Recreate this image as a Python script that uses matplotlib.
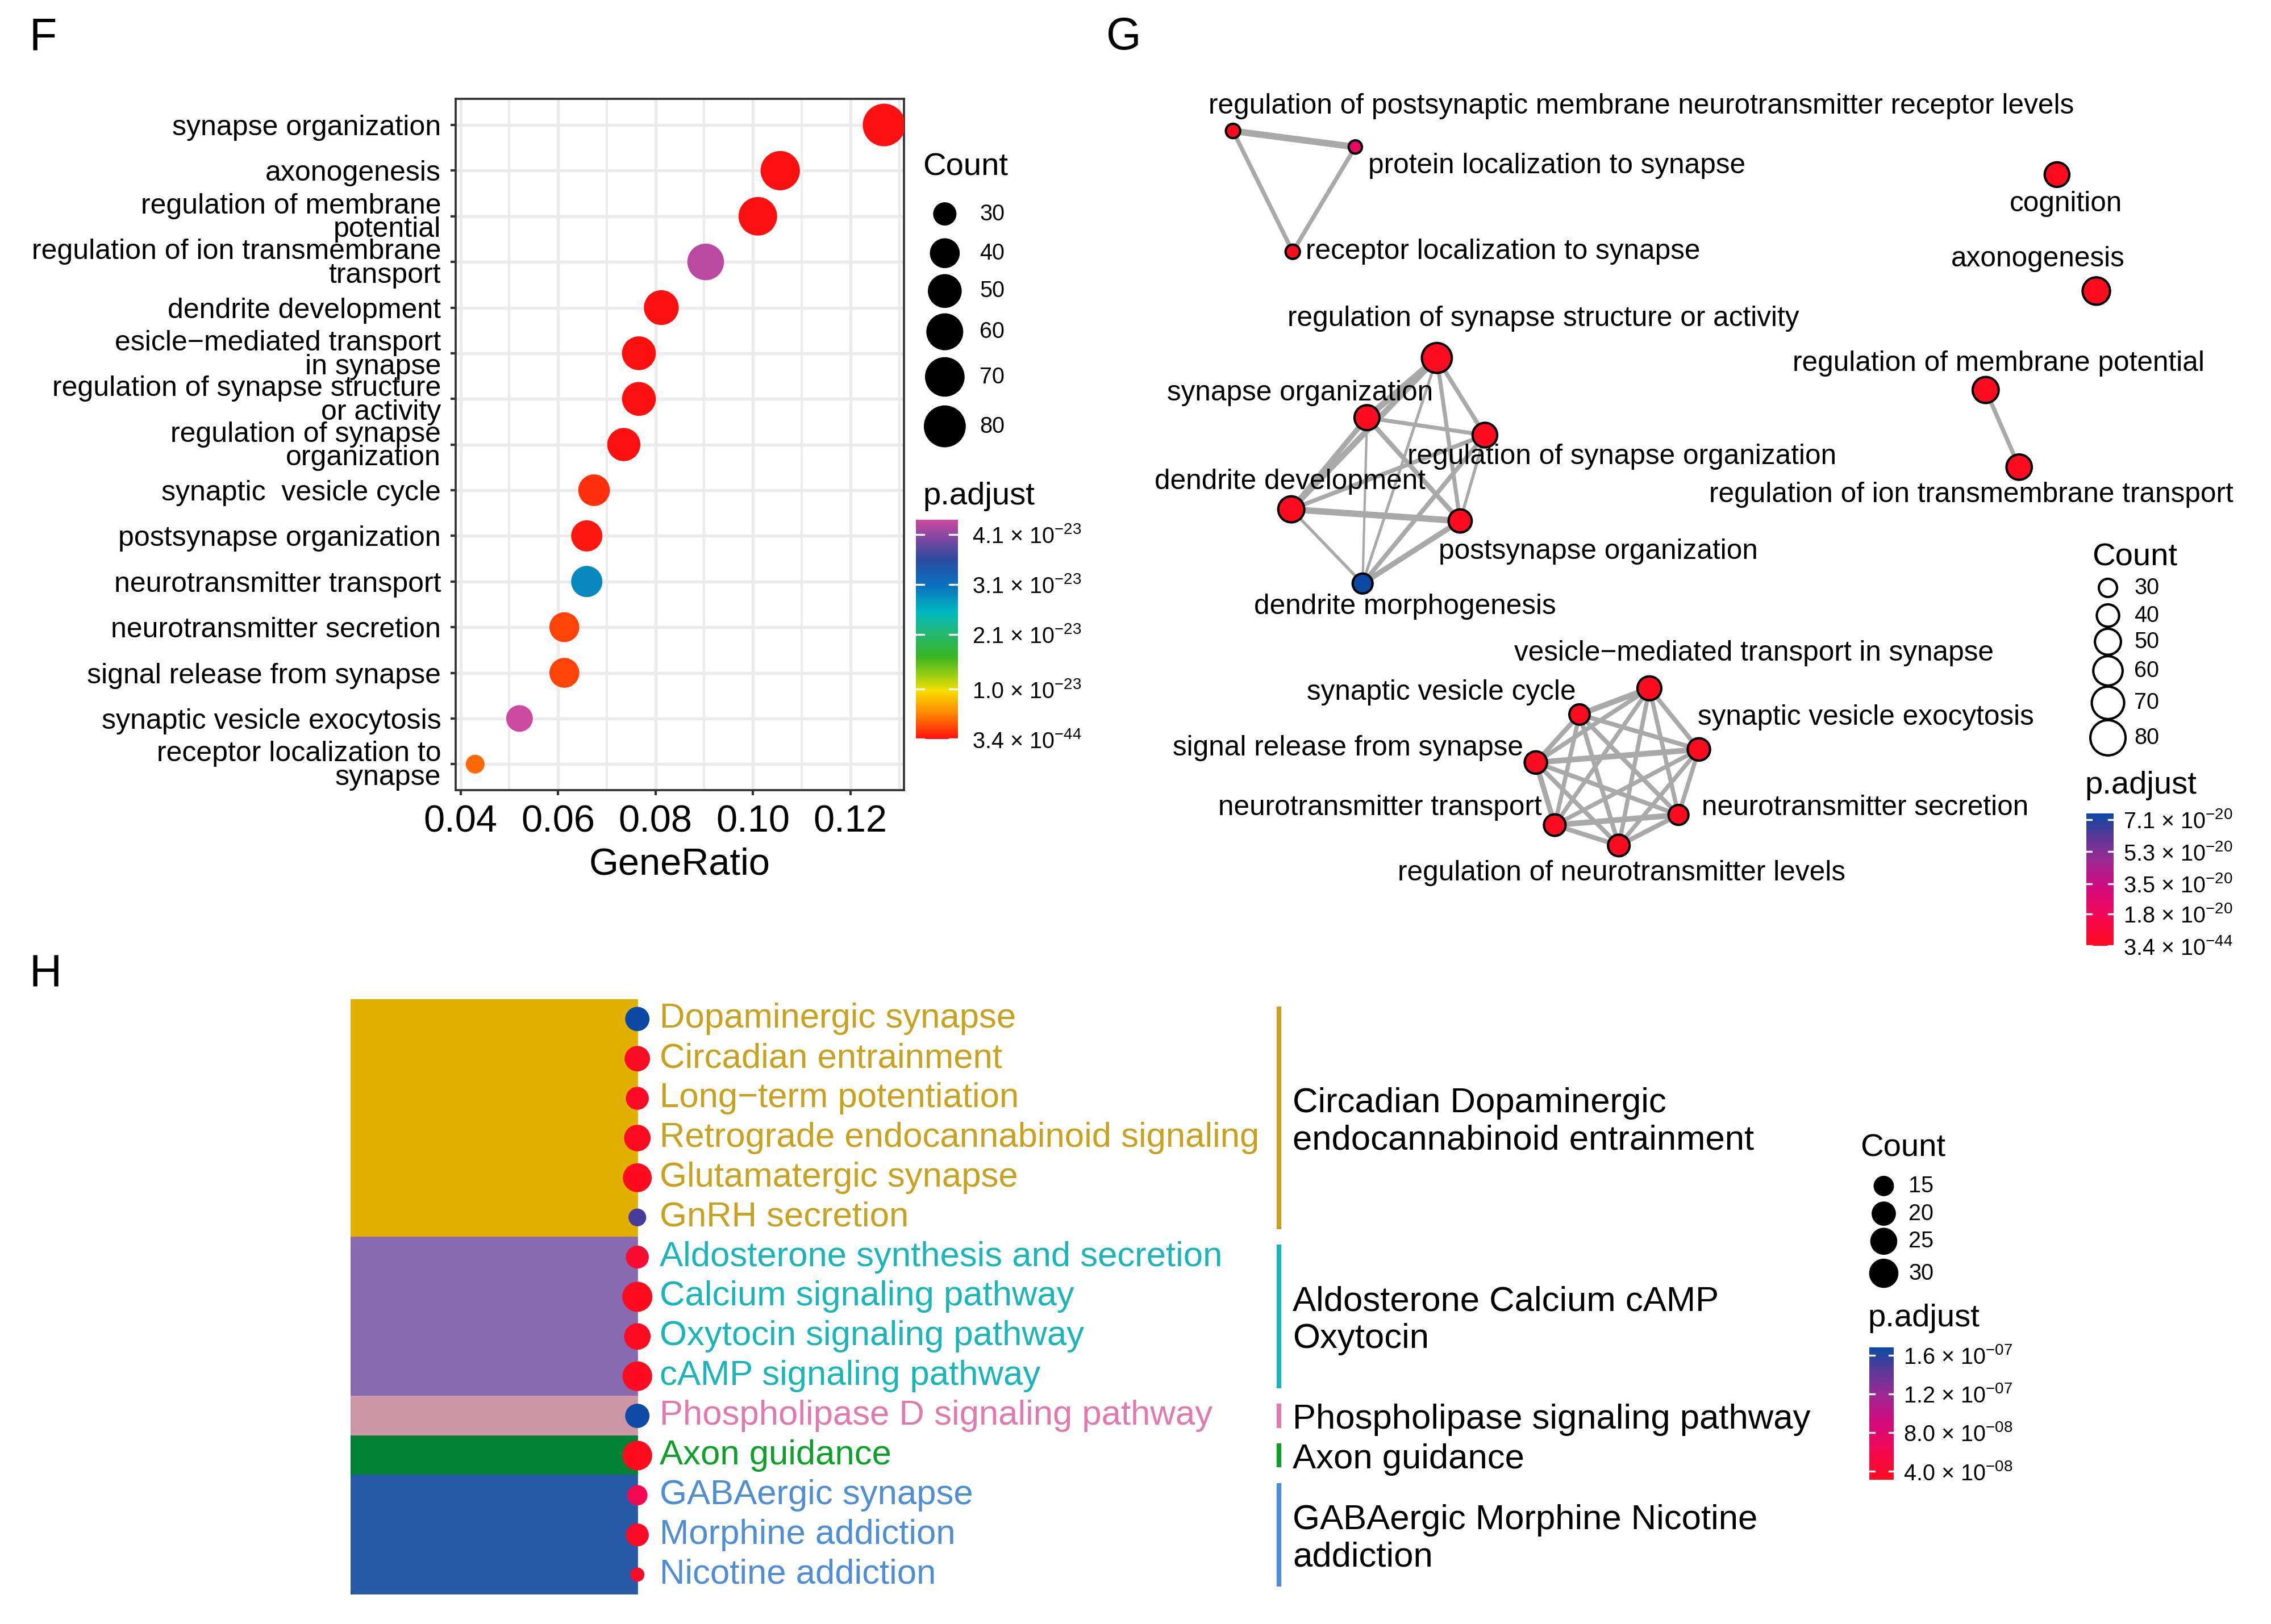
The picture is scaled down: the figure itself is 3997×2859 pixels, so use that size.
import numpy as np
import matplotlib
matplotlib.use('Agg')
import matplotlib.pyplot as plt
from matplotlib.colors import LinearSegmentedColormap, Normalize
from matplotlib.cm import ScalarMappable

plt.rcParams['font.family'] = ['Liberation Sans', 'DejaVu Sans']
plt.rcParams['mathtext.fontset'] = 'custom'
plt.rcParams['mathtext.rm'] = 'Liberation Sans'
plt.rcParams['mathtext.default'] = 'regular'

# ---------------- panel F: GO dot plot ----------------
go_terms = ['synapse organization', 'axonogenesis', 'regulation of membrane\npotential',
            'regulation of ion transmembrane\ntransport', 'dendrite development',
            'esicle\u2212mediated transport\nin synapse', 'regulation of synapse structure\nor activity',
            'regulation of synapse\norganization', 'synaptic  vesicle cycle', 'postsynapse organization',
            'neurotransmitter transport', 'neurotransmitter secretion', 'signal release from synapse',
            'synaptic vesicle exocytosis', 'receptor localization to\nsynapse']
go_ratio = [0.1269, 0.1056, 0.1010, 0.0903, 0.0812, 0.0766, 0.0766, 0.0735, 0.0674, 0.0659,
            0.0659, 0.0613, 0.0613, 0.0521, 0.0430]
go_count = [83, 69, 66, 59, 53, 50, 50, 48, 44, 43, 43, 40, 40, 34, 28]
go_padj = [3.4e-44, 2e-30, 5e-29, 4.3e-23, 3e-26, 2e-26, 1e-26, 5e-26, 1.4e-24, 4e-25,
           2.9e-23, 2.4e-24, 2.4e-24, 4.4e-23, 3.9e-24]
go_ticks = [0.04, 0.06, 0.08, 0.10, 0.12]
go_cbar_ticks = [3.4e-44, 1.0e-23, 2.1e-23, 3.1e-23, 4.1e-23]
go_cbar_labels = ['3.4 \u00d7 10$^{-44}$', '1.0 \u00d7 10$^{-23}$', '2.1 \u00d7 10$^{-23}$',
                  '3.1 \u00d7 10$^{-23}$', '4.1 \u00d7 10$^{-23}$']
go_legend_counts = [30, 40, 50, 60, 70, 80]

# ---------------- panel G: enrichment map ----------------
net_terms = ['regulation of postsynaptic membrane neurotransmitter receptor levels',
             'protein localization to synapse', 'receptor localization to synapse',
             'cognition', 'axonogenesis', 'regulation of synapse structure or activity',
             'synapse organization', 'regulation of synapse organization', 'dendrite development',
             'postsynapse organization', 'dendrite morphogenesis', 'regulation of membrane potential',
             'regulation of ion transmembrane transport', 'vesicle\u2212mediated transport in synapse',
             'synaptic vesicle cycle', 'synaptic vesicle exocytosis', 'signal release from synapse',
             'neurotransmitter transport', 'neurotransmitter secretion',
             'regulation of neurotransmitter levels']
net_x = [847, 931, 888, 1413, 1440, 987, 939, 1020, 887, 1003, 936, 1364, 1387,
         1133, 1085, 1167, 1055, 1068, 1153, 1112]
net_y = [90, 101, 173, 120, 200, 246, 287, 299, 350, 358, 401, 268, 321,
         473, 491, 515, 524, 567, 560, 581]
net_count = [22, 20, 22, 46, 54, 62, 47, 46, 50, 42, 34, 50, 48, 44, 35, 40, 40, 38, 34, 38]
net_padj = [1e-30, 2.2e-20, 1e-30, 1e-30, 1e-30, 1e-30, 1e-30, 1e-30, 1e-30, 1e-30, 7.44e-20,
            1e-30, 1e-30, 1e-30, 1e-30, 1e-30, 1e-30, 1e-30, 1e-30, 3.4e-44]
net_label_x = [830, 940, 897, 1419, 1400, 1060, 893, 1114, 886, 1098, 965, 1373, 1354,
               1205, 990, 1166, 926, 948, 1169, 1114]
net_label_y = [73, 114, 173, 140, 178, 219, 270, 314, 331, 379, 417, 250, 340,
               449, 476, 493, 514, 555, 555, 600]
net_label_ha = ['left', 'left', 'left', 'center', 'center', 'center', 'center', 'center', 'center',
                'center', 'center', 'center', 'center', 'center', 'center', 'left', 'center',
                'center', 'left', 'center']
net_edges = [(0, 1, 2.8), (0, 2, 1.8), (1, 2, 1.8),
             (5, 6, 2.7), (5, 8, 2.5), (5, 7, 1.8), (5, 9, 1.7), (5, 10, 1.2), (6, 7, 1.7),
             (6, 8, 2.2), (6, 9, 2.0), (6, 10, 1.0), (7, 8, 1.8), (7, 9, 1.3), (7, 10, 1.9),
             (8, 9, 2.7), (8, 10, 1.3), (9, 10, 2.3),
             (11, 12, 1.8),
             (13, 14, 2.4), (13, 15, 1.9), (13, 16, 1.9), (13, 17, 1.8), (13, 18, 1.8), (13, 19, 1.8),
             (14, 15, 1.9), (14, 16, 2.0), (14, 17, 1.8), (14, 18, 1.9), (14, 19, 1.9),
             (15, 16, 2.4), (15, 17, 1.8), (15, 18, 1.8), (15, 19, 1.8),
             (16, 17, 2.2), (16, 18, 1.9), (16, 19, 1.9),
             (17, 18, 2.4), (17, 19, 2.0), (18, 19, 2.0)]
net_cbar_ticks = [3.4e-44, 1.8e-20, 3.5e-20, 5.3e-20, 7.1e-20]
net_cbar_labels = ['3.4 \u00d7 10$^{-44}$', '1.8 \u00d7 10$^{-20}$', '3.5 \u00d7 10$^{-20}$',
                   '5.3 \u00d7 10$^{-20}$', '7.1 \u00d7 10$^{-20}$']
net_legend_counts = [30, 40, 50, 60, 70, 80]

# ---------------- panel H: KEGG tree ----------------
kegg_terms = ['Dopaminergic synapse', 'Circadian entrainment', 'Long\u2212term potentiation',
              'Retrograde endocannabinoid signaling', 'Glutamatergic synapse', 'GnRH secretion',
              'Aldosterone synthesis and secretion', 'Calcium signaling pathway',
              'Oxytocin signaling pathway', 'cAMP signaling pathway',
              'Phospholipase D signaling pathway', 'Axon guidance', 'GABAergic synapse',
              'Morphine addiction', 'Nicotine addiction']
kegg_count = [20, 22, 18, 24, 29, 13, 18, 32, 24, 31, 20, 31, 15, 18, 12]
kegg_padj = [1.68e-7, 3.5e-8, 3.6e-8, 3.3e-8, 3.2e-8, 1.5e-7, 4.2e-8, 3.2e-8, 3.4e-8, 3.3e-8,
             1.67e-7, 3.2e-8, 6.1e-8, 3.6e-8, 3.8e-8]
kegg_cluster = [0, 0, 0, 0, 0, 0, 1, 1, 1, 1, 2, 3, 4, 4, 4]
cluster_names = ['Circadian Dopaminergic\nendocannabinoid entrainment', 'Aldosterone Calcium cAMP\nOxytocin',
                 'Phospholipase signaling pathway', 'Axon guidance', 'GABAergic Morphine Nicotine\naddiction']
cluster_fill = ['#E2B000', '#876AAF', '#CC96A7', '#008134', '#2659A7']
cluster_text = ['#C8A21E', '#19B5B8', '#E07AAE', '#0FA02C', '#4F8ED4']
kegg_cbar_ticks = [4.0e-8, 8.0e-8, 1.2e-7, 1.6e-7]
kegg_cbar_labels = ['4.0 \u00d7 10$^{-08}$', '8.0 \u00d7 10$^{-08}$', '1.2 \u00d7 10$^{-07}$',
                    '1.6 \u00d7 10$^{-07}$']
kegg_legend_counts = [15, 20, 25, 30]

# ---------------- helpers ----------------
W, H = 1560, 1116   # layout grid (reference downscaled)


def fig_rect(x0, y0, x1, y1):
    return [x0 / W, 1 - y1 / H, (x1 - x0) / W, (y1 - y0) / H]


def marker_area(d_px):
    # diameter in output pixels (300 dpi) -> scatter area in pt^2
    return (np.asarray(d_px, float) * 72 / 300) ** 2


def gg_size(c, cmin, cmax, dmin, dmax):
    c = np.asarray(c, float)
    return dmin + (dmax - dmin) * np.sqrt(np.clip((c - cmin) / (cmax - cmin), 0, None))


def net_size(c):
    return -15.4 + 8.65 * np.sqrt(np.asarray(c, float))


rainbow = LinearSegmentedColormap.from_list('padj_rainbow', [
    (0.0, '#FF1010'), (0.12, '#FF8A00'), (0.22, '#F5DF00'), (0.28, '#A8D010'),
    (0.37, '#3CB521'), (0.49, '#20B878'), (0.58, '#00B8C0'), (0.70, '#0A70C0'),
    (0.82, '#2A4AA0'), (0.91, '#7A48A0'), (1.0, '#CC4AA0')])
redblue = LinearSegmentedColormap.from_list('padj_redblue', [
    (0.0, '#FF0A1E'), (0.25, '#F0085A'), (0.45, '#D00A80'), (0.65, '#9A2A92'),
    (0.85, '#503A9A'), (1.0, '#0A4AA5')])

fig = plt.figure(figsize=(3997 / 300, 2859 / 300), dpi=300)
ov = fig.add_axes([0, 0, 1, 1])
ov.set_xlim(0, W)
ov.set_ylim(H, 0)
ov.axis('off')


def colorbar(rect, cmap, norm, ticks, labels, pad):
    cax = fig.add_axes(rect)
    cb = fig.colorbar(ScalarMappable(norm=norm, cmap=cmap), cax=cax)
    cb.outline.set_visible(False)
    cb.set_ticks(ticks)
    cb.set_ticklabels(labels)
    cax.tick_params(length=0, pad=pad, labelsize=9.5)
    for t in ticks:
        cax.plot([0, 0.2], [t, t], color='white', lw=0.8)
        cax.plot([0.8, 1], [t, t], color='white', lw=0.8)
    return cax


def size_legend(xt, yt, xm, xl, ys, values, diam, filled):
    ov.text(xt, yt, 'Count', fontsize=13.5, ha='left', va='center')
    ov.scatter([xm] * len(values), ys, s=marker_area(diam),
               facecolors='black' if filled else 'none', edgecolors='black',
               linewidths=0 if filled else 1.0)
    for y, v in zip(ys, values):
        ov.text(xl, y, str(v), fontsize=9.5, ha='left', va='center')


# ---------------- F ----------------
axF = fig.add_axes(fig_rect(313, 68, 621, 543))
ypos = np.arange(len(go_terms))
normF = Normalize(vmin=min(go_padj), vmax=max(go_padj))
cminF, cmaxF = min(go_count), max(go_count)
axF.scatter(go_ratio, ypos, s=marker_area(gg_size(go_count, cminF, cmaxF, 33, 75)),
            c=go_padj, cmap=rainbow, norm=normF, linewidths=0, zorder=3)
axF.set_xlim(0.0390, 0.1310)
axF.set_ylim(14.57, -0.57)
axF.set_yticks(ypos)
axF.set_yticklabels(go_terms, fontsize=12, linespacing=0.88)
axF.set_xticks(go_ticks)
axF.set_xticklabels(['%.2f' % t for t in go_ticks], fontsize=16)
axF.set_xticks([0.05, 0.07, 0.09, 0.11, 0.13], minor=True)
axF.grid(which='major', color='#EBEBEB', lw=1.3)
axF.grid(which='minor', axis='x', color='#EBEBEB', lw=1.0)
axF.set_axisbelow(True)
for sp in axF.spines.values():
    sp.set_color('#333333')
    sp.set_linewidth(0.9)
axF.tick_params(which='major', direction='out', length=2.2, width=1.0, color='#333333', pad=4)
axF.tick_params(which='minor', length=0)
axF.set_xlabel('GeneRatio', fontsize=16, labelpad=3)

size_legend(634, 115, 649, 673, [147, 174, 200, 228, 259, 293], go_legend_counts,
            gg_size(go_legend_counts, cminF, cmaxF, 33, 75), True)
ov.text(634, 341, 'p.adjust', fontsize=13.5, ha='left', va='center')
colorbar(fig_rect(629, 357, 658, 508), rainbow, normF, go_cbar_ticks, go_cbar_labels, 6)

# ---------------- G ----------------
axG = fig.add_axes(fig_rect(760, 40, 1560, 640))
axG.set_xlim(760, 1560)
axG.set_ylim(640, 40)
axG.axis('off')
for i, j, w in net_edges:
    axG.plot([net_x[i], net_x[j]], [net_y[i], net_y[j]], color='#A9A9A9', lw=w,
             solid_capstyle='butt', zorder=1)
normG = Normalize(vmin=min(net_padj), vmax=max(net_padj))
axG.scatter(net_x, net_y, s=marker_area(net_size(net_count)), c=net_padj, cmap=redblue, norm=normG,
            edgecolors='black', linewidths=1.0, zorder=2)
for name, lx, ly, ha in zip(net_terms, net_label_x, net_label_y, net_label_ha):
    axG.text(lx, ly, name, fontsize=11.9, ha=ha, va='center', zorder=3)

size_legend(1437, 383, 1448, 1466, [404, 423, 441, 461, 483, 507], net_legend_counts,
            net_size(net_legend_counts), False)
ov.text(1432, 540, 'p.adjust', fontsize=13.5, ha='left', va='center')
colorbar(fig_rect(1433, 559, 1452, 650), redblue, normG, net_cbar_ticks, net_cbar_labels, 4)

# ---------------- H ----------------
axH = fig.add_axes(fig_rect(240.7, 686.6, 1560, 1095.7))
axH.set_xlim(240.7, 1560)
axH.set_ylim(14.5, -0.5)
axH.axis('off')
rows = np.arange(len(kegg_terms))
block_left, block_right = 240.7, 437.8
bar_colors = [cluster_fill[k] for k in kegg_cluster]
axH.barh(rows, block_right - block_left, left=block_left, height=1.0, color=bar_colors,
         edgecolor=bar_colors, linewidth=0.4, zorder=1)
normH = Normalize(vmin=3.1e-8, vmax=1.68e-7)
cminH, cmaxH = min(kegg_count), max(kegg_count)
axH.scatter([block_right] * len(rows), rows, s=marker_area(gg_size(kegg_count, cminH, cmaxH, 25, 53)),
            c=kegg_padj, cmap=redblue, norm=normH, linewidths=0, zorder=3)
for r, name, k in zip(rows, kegg_terms, kegg_cluster):
    axH.text(453, r, name, fontsize=14.8, color=cluster_text[k], ha='left', va='center')
for k, name in enumerate(cluster_names):
    members = [r for r, c in zip(rows, kegg_cluster) if c == k]
    first, last = min(members), max(members)
    axH.vlines(878.4, first - 0.31, last + 0.30, color=cluster_text[k], lw=2.0)
    axH.text(888, (first + last) / 2 + 0.1, name, fontsize=14.8, ha='left', va='center',
             linespacing=1.2)

size_legend(1278, 789, 1294, 1311, [815, 834, 853, 875], kegg_legend_counts,
            gg_size(kegg_legend_counts, cminH, cmaxH, 25, 53), True)
ov.text(1283, 906, 'p.adjust', fontsize=13.5, ha='left', va='center')
colorbar(fig_rect(1284, 926, 1301, 1017), redblue, normH, kegg_cbar_ticks, kegg_cbar_labels, 4)

# panel letters
fig.text(20 / W, 1 - 26 / H, 'F', fontsize=19, va='center', ha='left')
fig.text(760 / W, 1 - 26 / H, 'G', fontsize=19, va='center', ha='left')
fig.text(20 / W, 1 - 670 / H, 'H', fontsize=19, va='center', ha='left')

fig.savefig('out.png', dpi=300)
